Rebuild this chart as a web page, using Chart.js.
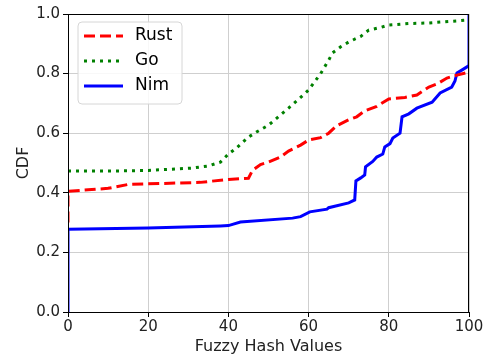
<!DOCTYPE html>
<html>
<head>
<meta charset="utf-8">
<script src="https://cdn.jsdelivr.net/npm/chart.js@4.4.1/dist/chart.umd.min.js"></script>
<style>
  html, body { margin: 0; padding: 0; background: #fff; }
</style>
</head>
<body>
<canvas id="cdf-chart" width="488" height="356"></canvas>
<script>
// CDF data
const seriesNames = ["Rust", "Go", "Nim"];

const rustX = [0, 0, 5, 10, 15, 20, 33, 40, 45, 46, 48, 50, 53, 55, 58, 60, 63, 65, 67, 70, 72, 74, 77, 80, 84, 87, 90, 92, 94.5, 97, 100];
const rustY = [0.30, 0.405, 0.41, 0.415, 0.428, 0.43, 0.435, 0.445, 0.449, 0.475, 0.495, 0.503, 0.52, 0.54, 0.56, 0.577, 0.585, 0.6, 0.625, 0.645, 0.655, 0.675, 0.69, 0.715, 0.72, 0.728, 0.755, 0.765, 0.785, 0.795, 0.805];

const goX = [0, 10, 20, 31, 35, 38, 40, 42, 45, 47, 50, 55, 58, 60, 63, 65, 66, 68, 70, 73, 75, 78, 80, 85, 90, 95, 100];
const goY = [0.473, 0.473, 0.475, 0.483, 0.49, 0.503, 0.53, 0.55, 0.587, 0.604, 0.627, 0.684, 0.72, 0.745, 0.80, 0.845, 0.87, 0.89, 0.906, 0.925, 0.946, 0.955, 0.963, 0.968, 0.97, 0.975, 0.98];

const nimX = [0, 0, 20, 38, 40, 43, 56, 58, 60.3, 64.6, 65, 70, 71.5, 71.8, 73, 74, 74.2, 76, 77, 78.5, 79, 80.3, 81, 82.8, 83.3, 85, 87, 90.8, 92.8, 95.7, 96.5, 97, 98, 99.8, 100, 100];
const nimY = [0, 0.278, 0.282, 0.289, 0.29, 0.302, 0.315, 0.32, 0.336, 0.345, 0.35, 0.366, 0.376, 0.44, 0.45, 0.46, 0.487, 0.505, 0.52, 0.53, 0.554, 0.565, 0.584, 0.6, 0.655, 0.665, 0.684, 0.704, 0.735, 0.755, 0.775, 0.802, 0.81, 0.825, 0.83, 1.0];

const xTicks = [0, 20, 40, 60, 80, 100];
const yTicks = [0, 0.2, 0.4, 0.6, 0.8, 1.0];

function toPoints(xs, ys) {
  return xs.map((x, i) => ({ x: x, y: ys[i] }));
}

const FONT = "'DejaVu Sans', sans-serif";

// legend drawn inside the plot, top left, like matplotlib
const insideLegend = {
  id: "insideLegend",
  afterDatasetsDraw(chart) {
    const ctx = chart.ctx;
    const area = chart.chartArea;
    const bx = area.left + 10, by = area.top + 8, bw = 104, bh = 82;
    ctx.save();
    ctx.beginPath();
    if (ctx.roundRect) ctx.roundRect(bx, by, bw, bh, 4); else ctx.rect(bx, by, bw, bh);
    ctx.fillStyle = "rgba(255,255,255,0.85)";
    ctx.fill();
    ctx.strokeStyle = "#d6d6d6";
    ctx.lineWidth = 1;
    ctx.stroke();

    chart.data.datasets.forEach((ds, i) => {
      const y = by + 14 + i * 25;
      ctx.beginPath();
      ctx.setLineDash(ds.borderDash || []);
      ctx.lineCap = "butt";
      ctx.strokeStyle = ds.borderColor;
      ctx.lineWidth = ds.borderWidth;
      ctx.moveTo(bx + 6, y);
      ctx.lineTo(bx + 45, y);
      ctx.stroke();
      ctx.setLineDash([]);
      ctx.fillStyle = "#000";
      ctx.font = "17px " + FONT;
      ctx.textBaseline = "middle";
      ctx.fillText(ds.label, bx + 57, y);
    });
    ctx.restore();
  },
  afterDraw(chart) {
    // frame on all four sides
    const ctx = chart.ctx;
    const a = chart.chartArea;
    ctx.save();
    ctx.strokeStyle = "#000";
    ctx.lineWidth = 1;
    ctx.strokeRect(a.left + 0.5, a.top + 0.5, a.right - a.left - 1, a.bottom - a.top);
    ctx.restore();
  }
};

const config = {
  type: "line",
  data: {
    datasets: [
      {
        label: seriesNames[0],
        data: toPoints(rustX, rustY),
        borderColor: "#ff0000",
        borderWidth: 3,
        borderDash: [11, 5],
      },
      {
        label: seriesNames[1],
        data: toPoints(goX, goY),
        borderColor: "#008000",
        borderWidth: 3,
        borderDash: [3, 5],
      },
      {
        label: seriesNames[2],
        data: toPoints(nimX, nimY),
        borderColor: "#0000ff",
        borderWidth: 3,
      },
    ],
  },
  options: {
    responsive: false,
    animation: false,
    elements: { point: { radius: 0 }, line: { tension: 0, fill: false } },
    layout: { padding: { top: 14, right: 19, left: 0, bottom: 0 } },
    plugins: { legend: { display: false }, tooltip: { enabled: false } },
    scales: {
      x: {
        type: "linear",
        min: 0,
        max: 100,
        afterFit(scale) { scale.height = 44; },
        afterBuildTicks(scale) { scale.ticks = xTicks.map(v => ({ value: v })); },
        grid: { color: "#cfcfcf", tickColor: "#000", tickLength: 5 },
        border: { color: "#000", width: 1 },
        ticks: { color: "#222", padding: 1, font: { family: FONT, size: 15 } },
        title: { display: true, text: "Fuzzy Hash Values", color: "#222", padding: { top: 0, bottom: 0 }, font: { family: FONT, size: 16 } },
      },
      y: {
        type: "linear",
        min: 0,
        max: 1,
        afterFit(scale) { scale.width = 68; },
        afterBuildTicks(scale) { scale.ticks = yTicks.map(v => ({ value: v })); },
        grid: { color: "#cfcfcf", tickColor: "#000", tickLength: 5 },
        border: { color: "#000", width: 1 },
        ticks: { color: "#222", padding: 3, font: { family: FONT, size: 15 }, callback: v => v.toFixed(1) },
        title: { display: true, text: "CDF", color: "#222", padding: { top: 14, bottom: 0 }, font: { family: FONT, size: 16 } },
      },
    },
  },
  plugins: [insideLegend],
};

const cdfChart = new Chart(document.getElementById("cdf-chart"), config);
</script>
</body>
</html>
